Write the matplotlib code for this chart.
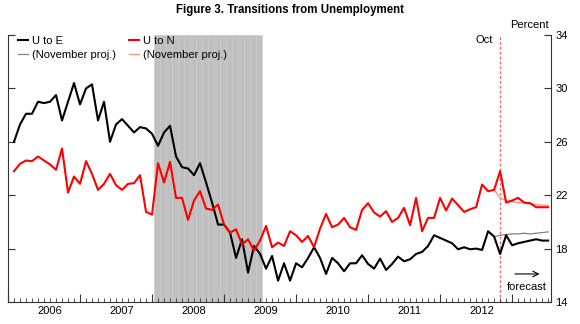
import numpy as np
import matplotlib
matplotlib.use('Agg')
import matplotlib.pyplot as plt

plt.rcParams['font.family'] = ['Liberation Sans', 'DejaVu Sans']

# ==================== DATA ====================
# monthly transition rates (percent), Jan 2006 - Jun 2013
u_to_e = [
    26.0, 27.3, 28.1, 28.1, 29.0, 28.9, 29.0, 29.5, 27.6, 29.0, 30.4, 28.8,    # 2006
    30.0, 30.3, 27.6, 29.0, 26.0, 27.3, 27.7, 27.2, 26.7, 27.1, 27.0, 26.6,    # 2007
    25.7, 26.7, 27.2, 24.9, 24.1, 24.0, 23.5, 24.4, 22.95, 21.45, 19.8, 19.8,  # 2008
    19.2, 17.3, 18.7, 16.2, 18.2, 17.6, 16.5, 17.45, 15.6, 16.9, 15.6, 16.9,   # 2009
    16.6, 17.3, 18.1, 17.3, 16.1, 17.3, 16.9, 16.3, 16.9, 16.9, 17.5, 16.85,   # 2010
    16.5, 17.25, 16.4, 16.85, 17.4, 17.05, 17.2, 17.6, 17.75, 18.2, 19.0, 18.8,  # 2011
    18.6, 18.4, 17.95, 18.1, 17.95, 18.0, 17.9, 19.3, 18.9, 17.6, 19.0, 18.25,   # 2012
    18.4, 18.5, 18.6, 18.7, 18.6, 18.6,                                          # 2013
]
u_to_n = [
    23.8, 24.35, 24.6, 24.55, 24.9, 24.6, 24.3, 23.9, 25.5, 22.2, 23.4, 22.85,   # 2006
    24.55, 23.6, 22.4, 22.85, 23.6, 22.75, 22.4, 22.85, 22.9, 23.5, 20.75, 20.55,  # 2007
    24.4, 22.95, 24.5, 21.8, 21.8, 20.15, 21.6, 22.3, 21.0, 20.9, 21.3, 19.8,    # 2008
    19.2, 19.45, 18.3, 18.7, 17.85, 18.6, 19.7, 18.1, 18.45, 18.2, 19.3, 19.0,   # 2009
    18.5, 18.95, 18.1, 19.5, 20.6, 19.6, 19.8, 20.3, 19.6, 19.4, 20.9, 21.4,     # 2010
    20.7, 20.4, 20.8, 20.0, 20.3, 21.05, 19.75, 21.8, 19.3, 20.3, 20.3, 21.8,    # 2011
    20.85, 21.75, 21.25, 20.75, 20.95, 21.1, 22.8, 22.3, 22.4, 23.8, 21.45, 21.6,  # 2012
    21.8, 21.45, 21.4, 21.1, 21.1, 21.1,                                         # 2013
]
# November projections, Sep 2012 - Jun 2013
proj_e = [18.9, 19.0, 19.05, 19.1, 19.1, 19.15, 19.1, 19.15, 19.2, 19.25]
proj_n = [22.4, 21.8, 21.6, 21.5, 21.45, 21.4, 21.35, 21.3, 21.25, 21.25]

years = list(range(2006, 2013))
y_ticks = [14, 18, 22, 26, 30, 34]

# month-end positions in decimal years
months = 2006 + np.arange(1, len(u_to_e) + 1) / 12
proj_months = months[-len(proj_e):]
oct_2012 = 2012 + 10 / 12
recession = (2008.03, 2009.53)

# ==================== PLOTTING ====================
fig = plt.figure(figsize=(5.8, 3.24), dpi=100)
ax = fig.add_axes([8 / 580, 22 / 324, 543 / 580, 267 / 324])

# recession band, drawn month by month so the seams show faintly
rec_left = np.arange(recession[0], recession[1] - 1e-6, 1 / 12)
ax.bar(rec_left, 20, bottom=14, width=1 / 12, align='edge', color='#c0c0c0',
       edgecolor='#cacaca', linewidth=0.5, zorder=0)

ax.axvline(oct_2012, color='#f06a6a', linestyle=(0, (2, 1.5)), linewidth=1.0, zorder=1)

ax.plot(proj_months, proj_e, color='#808080', linewidth=0.9, zorder=2, label='(November proj.)')
ax.plot(proj_months, proj_n, color='#ff8c8c', linewidth=0.9, zorder=2, label='(November proj.)')
ax.plot(months, u_to_e, color='black', linewidth=1.5, zorder=3, label='U to E')
ax.plot(months, u_to_n, color='#ff0000', linewidth=1.5, zorder=3, label='U to N')

handles, labels = ax.get_legend_handles_labels()
order = [2, 0, 3, 1]
ax.legend([handles[i] for i in order], [labels[i] for i in order], ncol=2,
          loc='upper left', bbox_to_anchor=(0.018, 0.995), frameon=False,
          fontsize=8, handlelength=0.9, handletextpad=0.35, columnspacing=1.2,
          borderpad=0, borderaxespad=0, labelspacing=0.35)

ax.set_xlim(2006.0, 2013.54)
ax.set_ylim(14, 34)

for s in ['left', 'right', 'bottom']:
    ax.spines[s].set_color('#333333')
    ax.spines[s].set_linewidth(0.8)
ax.spines['top'].set_visible(False)

ax.set_yticks(y_ticks)
ax.tick_params(axis='y', direction='in', length=5, width=0.8, color='#333333',
               left=True, right=True, labelleft=False, labelright=True,
               labelsize=8, pad=3)

ax.set_xticks(list(range(2006, 2014)))
ax.set_xticklabels([])
ax.set_xticks(2006 + np.arange(1, 91) / 12, minor=True)
ax.tick_params(axis='x', which='major', direction='in', length=6, width=0.8, color='#333333')
ax.tick_params(axis='x', which='minor', direction='in', length=3, width=0.6, color='#333333')

for yr in years:
    ax.annotate(str(yr), xy=(yr + 0.58, 0), xycoords=('data', 'axes fraction'),
                xytext=(0, -3), textcoords='offset points',
                ha='center', va='top', fontsize=8)

ax.annotate('Oct', xy=(oct_2012, 33.6), xytext=(-5, 0), textcoords='offset points',
            ha='right', va='center', fontsize=8)
ax.text(0.961, 1.037, 'Percent', transform=ax.transAxes, ha='center', va='center', fontsize=8)

ax.annotate('', xy=(2013.42, 16.1), xytext=(2013.0, 16.1),
            arrowprops=dict(arrowstyle='->', lw=0.8, color='black'))
ax.text(2013.21, 15.1, 'forecast', ha='center', va='center', fontsize=8)

fig.text(0.5, 1 - 10 / 324, 'Figure 3. Transitions from Unemployment',
         ha='center', va='center', fontsize=8.3, fontweight='bold')

fig.savefig('out.png', dpi=100)
plt.close(fig)
